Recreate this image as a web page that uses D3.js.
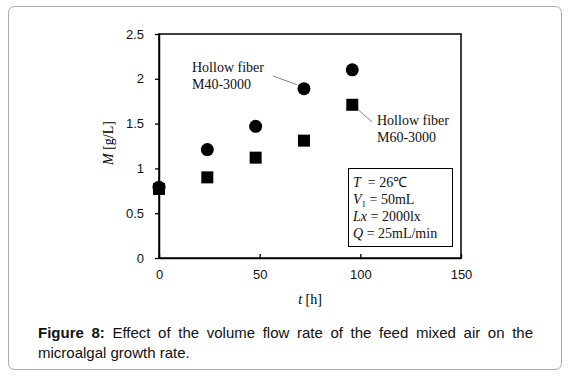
<!DOCTYPE html>
<html><head><meta charset="utf-8">
<script src="https://cdn.jsdelivr.net/npm/d3@7"></script>
<style>
body{margin:0;background:#fff;}
.cap{position:absolute;left:38px;width:495px;font-family:"Liberation Sans",Arial,sans-serif;font-size:15px;line-height:20px;color:#111;white-space:nowrap;}
#cap1{top:323px;text-align:justify;text-align-last:justify;}
#cap2{top:343px;text-align:left;}
</style></head>
<body>
<svg id="chart" width="568" height="376" style="position:absolute;left:0;top:0"></svg>
<div class="cap" id="cap1"><b>Figure 8:</b><span> Effect of the volume flow rate of the feed mixed air on the</span></div>
<div class="cap" id="cap2">microalgal growth rate.</div>
<script>
const hours = [0, 24, 48, 72, 96];
const m40 = [0.79, 1.21, 1.47, 1.89, 2.10];
const m60 = [0.77, 0.90, 1.12, 1.31, 1.71];
const xTicks = [0, 50, 100, 150];
const yTicks = [0, 0.5, 1, 1.5, 2, 2.5];

const svg = d3.select("#chart");
svg.append("rect").attr("x",8.5).attr("y",6.5).attr("width",553).attr("height",363)
  .attr("rx",6).attr("fill","none").attr("stroke","#a8a8a8").attr("stroke-width",1);

const x = d3.scaleLinear().domain([0,150]).range([159,461]);
const y = d3.scaleLinear().domain([0,2.5]).range([258,34]);

// frame
svg.append("rect").attr("x",159).attr("y",34).attr("width",302).attr("height",224)
  .attr("fill","none").attr("stroke","#000").attr("stroke-width",1.5);

const tickFont = '"Liberation Sans",Arial,sans-serif';
const xa = svg.append("g").attr("transform","translate(0,258)")
  .call(d3.axisBottom(x).tickValues(xTicks).tickSizeInner(-4).tickSizeOuter(0).tickPadding(12));
const ya = svg.append("g").attr("transform","translate(159,0)")
  .call(d3.axisLeft(y).tickValues(yTicks).tickSizeInner(4).tickSizeOuter(0).tickPadding(11)
    .tickFormat(d=>String(d)));
[xa,ya].forEach(g=>{
  g.select(".domain").attr("stroke","#000").attr("stroke-width",1.5);
  g.selectAll(".tick line").attr("stroke","#000").attr("stroke-width",1.3);
  g.selectAll(".tick text").attr("font-family",tickFont).attr("font-size",13).attr("fill","#111");
});

const serif = '"Liberation Serif","Times New Roman",serif';
// axis titles
const xt = svg.append("text").attr("x",310).attr("y",304).attr("text-anchor","middle")
  .attr("font-family",serif).attr("font-size",14);
xt.append("tspan").attr("font-style","italic").text("t");
xt.append("tspan").text(" [h]");
const yt = svg.append("text").attr("transform","translate(113,143) rotate(-90)").attr("text-anchor","middle")
  .attr("font-family",serif).attr("font-size",14);
yt.append("tspan").attr("font-style","italic").text("M");
yt.append("tspan").text("  [g/L]");

// markers
const sq = 12;
svg.append("g").selectAll("rect").data(hours.map((h,i)=>[h,m60[i]])).join("rect")
  .attr("x",d=>x(d[0])-sq/2).attr("y",d=>y(d[1])-sq/2).attr("width",sq).attr("height",sq).attr("fill","#000");
svg.append("g").selectAll("circle").data(hours.map((h,i)=>[h,m40[i]])).join("circle")
  .attr("cx",d=>x(d[0])).attr("cy",d=>y(d[1])).attr("r",6.5).attr("fill","#000");

// annotations
function label(lines, lx, ly){
  const t = svg.append("text").attr("font-family",serif).attr("font-size",14).attr("fill","#111");
  lines.forEach((s,i)=>t.append("tspan").attr("x",lx).attr("y",ly+i*17).text(s));
}
label(["Hollow fiber","M40-3000"],192,72);
svg.append("line").attr("x1",273).attr("y1",76).attr("x2",x(72)-7).attr("y2",y(m40[3])-4)
  .attr("stroke","#666").attr("stroke-width",0.8);
label(["Hollow fiber","M60-3000"],377,125);
svg.append("line").attr("x1",x(96)+6).attr("y1",y(m60[4])+5).attr("x2",372).attr("y2",122)
  .attr("stroke","#666").attr("stroke-width",0.8);

// info box
svg.append("rect").attr("x",348.5).attr("y",168.5).attr("width",104).attr("height",78)
  .attr("fill","#fff").attr("stroke","#000").attr("stroke-width",1);
const info = [["T","",  "  = 26℃"],["V","1"," = 50mL"],["Lx",""," = 2000lx"],["Q",""," = 25mL/min"]];
info.forEach((r,i)=>{
  const t = svg.append("text").attr("x",353).attr("y",187+i*17).attr("font-family",serif).attr("font-size",14).attr("fill","#111")
    .attr("xml:space","preserve");
  t.append("tspan").attr("font-style","italic").text(r[0]);
  if(r[1]) t.append("tspan").attr("font-size",9).attr("dy",3).text(r[1]);
  t.append("tspan").attr("dy",r[1]?-3:0).text(r[2]);
});
</script>
</body></html>
